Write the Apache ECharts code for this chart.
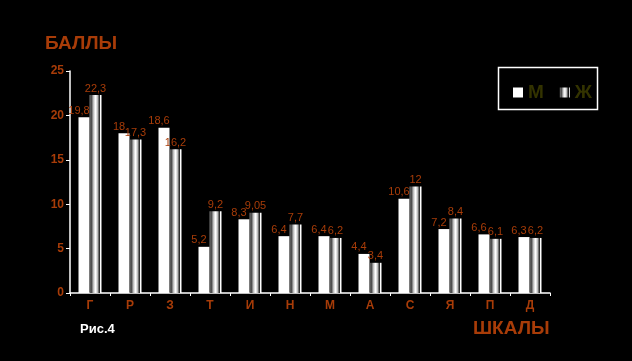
<!DOCTYPE html>
<html><head><meta charset="utf-8">
<script src="https://cdn.jsdelivr.net/npm/echarts@6/dist/echarts.min.js"></script>
<style>html,body{margin:0;padding:0;background:#000;}#c{width:632px;height:361px;}</style>
</head><body><div id="c"></div>
<script>
const categories = ['Г','Р','З','Т','И','Н','М','А','С','Я','П','Д'];
const valuesM = [19.8, 18, 18.6, 5.2, 8.3, 6.4, 6.4, 4.4, 10.6, 7.2, 6.6, 6.3];
const valuesZh = [22.3, 17.3, 16.2, 9.2, 9.05, 7.7, 6.2, 3.4, 12, 8.4, 6.1, 6.2];
const yTicks = [0, 5, 10, 15, 20, 25];

const orange = '#a83c08';
const fmt = p => String(p.value).replace('.', ',');
const zhGrad = {
  type: 'linear', x: 0, y: 0, x2: 1, y2: 0,
  colorStops: [
    {offset: 0, color: '#777'}, {offset: 0.15, color: '#444'},
    {offset: 0.35, color: '#ccc'}, {offset: 0.5, color: '#fff'},
    {offset: 0.65, color: '#ccc'}, {offset: 0.8, color: '#444'},
    {offset: 0.88, color: '#111'}, {offset: 0.9, color: '#000'},
    {offset: 0.91, color: '#fff'}, {offset: 1, color: '#fff'}
  ]
};
const chart = echarts.init(document.getElementById('c'));
chart.setOption({
  backgroundColor: '#000',
  animation: false,
  graphic: [
    {type: 'text', left: 45, top: 34, style: {text: 'БАЛЛЫ', fill: orange, font: 'bold 19px Arial, Liberation Sans'}},
    {type: 'text', left: 473, top: 319, style: {text: 'ШКАЛЫ', fill: orange, font: 'bold 19px Arial, Liberation Sans'}},
    {type: 'text', left: 80, top: 323, style: {text: 'Рис.4', fill: '#fff', font: 'bold 13px Arial, Liberation Sans'}},
    {type: 'rect', shape: {x: 498.5, y: 67.5, width: 99, height: 42}, style: {fill: 'none', stroke: '#fff', lineWidth: 1.5}}
  ],
  legend: {
    left: 508, top: 78, itemWidth: 10, itemHeight: 10, itemGap: 16,
    textStyle: {color: '#333300', fontSize: 19, fontWeight: 'bold', fontFamily: 'Arial, Liberation Sans'},
    data: [{name: 'М', icon: 'rect'}, {name: 'Ж', icon: 'rect'}]
  },
  grid: {left: 70, right: 82, top: 71, bottom: 68},
  xAxis: {
    type: 'category', data: categories,
    axisLine: {lineStyle: {color: '#fff', width: 1.5}},
    axisTick: {show: true, length: 3, lineStyle: {color: '#fff'}},
    axisLabel: {color: orange, fontWeight: 'bold', fontSize: 12, fontFamily: 'Arial, Liberation Sans', margin: 7}
  },
  yAxis: {
    type: 'value', min: yTicks[0], max: yTicks[yTicks.length - 1], interval: 5,
    axisLine: {show: true, lineStyle: {color: '#fff', width: 1.5}},
    axisTick: {show: true, length: 4, lineStyle: {color: '#fff'}},
    splitLine: {show: false},
    axisLabel: {color: orange, fontWeight: 'bold', fontSize: 12, fontFamily: 'Arial, Liberation Sans', margin: 6}
  },
  series: [
    {name: 'М', type: 'bar', data: valuesM, barWidth: 11, barGap: '0%',
     itemStyle: {color: '#fff'},
     label: {show: true, position: 'top', distance: 1, offset: [-5, 0], formatter: fmt, color: orange, fontSize: 11, fontFamily: 'Arial, Liberation Sans'}},
    {name: 'Ж', type: 'bar', data: valuesZh, barWidth: 12,
     itemStyle: {color: zhGrad},
     label: {show: true, position: 'top', distance: 1, offset: [0, 0], formatter: fmt, color: orange, fontSize: 11, fontFamily: 'Arial, Liberation Sans'}}
  ]
});
</script></body></html>
